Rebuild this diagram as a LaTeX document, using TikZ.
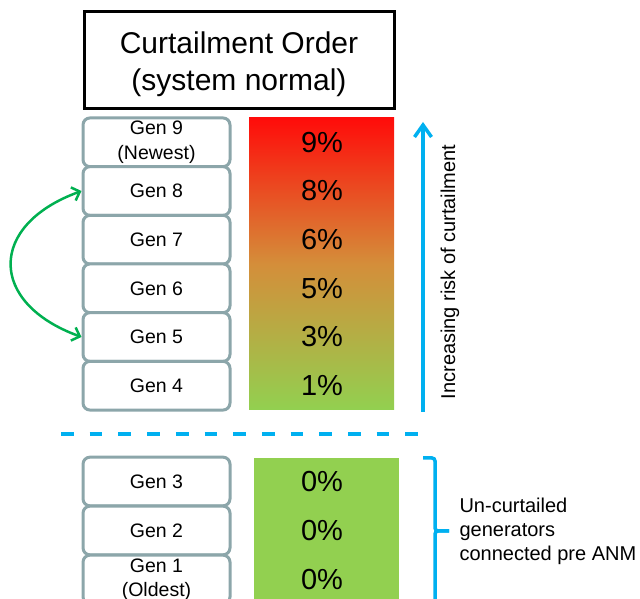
\documentclass[tikz,border=0pt]{standalone}
\usepackage{fontspec}
\setmainfont{Liberation Sans}
\usetikzlibrary{arrows.meta}
\definecolor{genedge}{RGB}{140,166,170}
\definecolor{riskred}{RGB}{255,12,10}
\definecolor{riskmid}{RGB}{212,142,58}
\definecolor{riskgreen}{RGB}{146,208,80}
\definecolor{anmblue}{RGB}{0,176,240}
\definecolor{swapgreen}{RGB}{0,176,80}

\begin{document}
\begin{tikzpicture}[x=1pt,y=1pt,
    genbox/.style={draw=genedge, line width=3pt, rounded corners=7pt, fill=white,
        minimum width=147pt, minimum height=48.7pt, inner sep=0pt, align=center,
        font=\fontsize{19.5}{24.5}\selectfont},
    pct/.style={font=\fontsize{29}{33}\selectfont},
    swaparrow/.style={swapgreen, line width=2.5pt, {Straight Barb[length=7pt,width=14pt]}-{Straight Barb[length=7pt,width=14pt]}},
    riskarrow/.style={anmblue, line width=3.5pt, -{Straight Barb[length=12pt,width=17pt]}}]
        \useasboundingbox (0,0) rectangle (640,599);
        \draw[line width=3pt] (84,490) rectangle (394,587);
        \node[align=center, font=\fontsize{30}{37}\selectfont] (title) at (239,534.5) {Curtailment Order\\(system normal)};
        \shade[top color=riskred, bottom color=riskgreen, middle color=riskmid] (249,189) rectangle (394,481);
        \fill[riskgreen] (254,141) rectangle (399,-5);
        \node[genbox] (gen9) at (156.5,456.7) {Gen 9\\(Newest)};
        \node[genbox] (gen8) at (156.5,408) {Gen 8};
        \node[genbox] (gen7) at (156.5,359.3) {Gen 7};
        \node[genbox] (gen6) at (156.5,310.7) {Gen 6};
        \node[genbox] (gen5) at (156.5,262) {Gen 5};
        \node[genbox] (gen4) at (156.5,213.3) {Gen 4};
        \node[genbox] (gen3) at (156.5,117.5) {Gen 3};
        \node[genbox] (gen2) at (156.5,68.5) {Gen 2};
        \node[genbox] (gen1) at (156.5,19.5) {Gen 1\\(Oldest)};
        \node[pct] (pct9) at (322,456.7) {9\%};
        \node[pct] (pct8) at (322,408) {8\%};
        \node[pct] (pct7) at (322,359.3) {6\%};
        \node[pct] (pct6) at (322,310.7) {5\%};
        \node[pct] (pct5) at (322,262) {3\%};
        \node[pct] (pct4) at (322,213.3) {1\%};
        \node[pct] (pct3) at (322,117.5) {0\%};
        \node[pct] (pct2) at (322,68.5) {0\%};
        \node[pct] (pct1) at (322,19.5) {0\%};
        \draw[swaparrow] (gen8.west) to[out=200,in=160,looseness=1.75] (gen5.west);
        \coordinate (splitL) at (61,165);
        \coordinate (splitR) at (422,165);
        \draw[anmblue, line width=4pt, dash pattern=on 12.7pt off 16pt] (splitL) -- (splitR);
        \coordinate (riskbot) at (423,187);
        \coordinate (risktop) at (423,477);
        \draw[riskarrow] (riskbot) -- (risktop);
        \node[rotate=90, font=\fontsize{20}{24}\selectfont] (risklabel) at (450,327) {Increasing risk of curtailment};
        \draw[anmblue, line width=3.5pt, rounded corners=3pt] (423,141) -- (435,141) -- (435,68) -- (449,68);
        \draw[anmblue, line width=3.5pt, rounded corners=3pt] (449,68) -- (435,68) -- (435,-5);
        \node[anchor=west, align=left, font=\fontsize{20}{24}\selectfont] (precap) at (456,68)
            {Un-curtailed\\generators\\connected pre ANM};
\end{tikzpicture}
\end{document}
